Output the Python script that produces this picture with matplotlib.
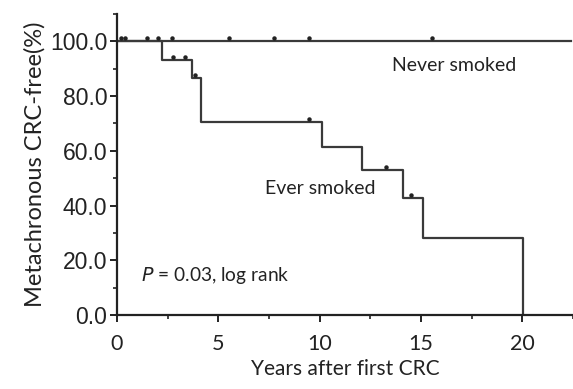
import matplotlib
matplotlib.use("Agg")
import matplotlib.pyplot as plt
import matplotlib.transforms as mtransforms
import numpy as np

# Ever smoked: step curve (time of event, survival after event)
ever_times = [0.0, 2.23, 3.70, 4.13, 10.10, 12.07, 14.10, 15.10, 20.05]
ever_surv = [100.0, 93.1, 86.7, 70.4, 61.4, 52.9, 42.6, 28.0, 0.0]
ever_censor = [2.77, 3.34, 3.85, 9.45, 13.25, 14.50]

# Never smoked
never_times = [0.0, 22.4]
never_surv = [100.0, 100.0]
never_censor = [0.2, 0.4, 1.49, 2.0, 2.69, 5.55, 7.73, 9.48, 15.55]

xticks = [0, 5, 10, 15, 20]
yticks = [0, 20, 40, 60, 80, 100]
ytick_labels = ["0.0", "20.0", "40.0", "60.0", "80.0", "100.0"]

W, H = 573, 389
fig = plt.figure(figsize=(W / 100, H / 100), dpi=100)
ax = fig.add_axes([117 / W, 1 - 315 / H, (W - 117) / W, (315 - 14) / H])

line_color = "#3a3a3a"

def surv_at(times, surv, t):
    idx = np.searchsorted(times, t, side="right") - 1
    return surv[idx]

ax.step(never_times, never_surv, where="post", color=line_color, lw=1.6)
ax.step(ever_times, ever_surv, where="post", color=line_color, lw=1.6)

off = mtransforms.offset_copy(ax.transData, fig=fig, x=0, y=3, units="dots")
ax.plot(never_censor, [surv_at(never_times, never_surv, t) for t in never_censor],
        ls="none", marker="o", ms=2.2, color="#222222", transform=off)
ax.plot(ever_censor, [surv_at(ever_times, ever_surv, t) for t in ever_censor],
        ls="none", marker="o", ms=2.2, color="#222222", transform=off)

ax.set_xlim(0, 22.4)
ax.set_ylim(0, 110)
ax.spines["top"].set_visible(False)
ax.spines["right"].set_visible(False)
for s in ("left", "bottom"):
    ax.spines[s].set_linewidth(1.6)
    ax.spines[s].set_color("#222222")

ax.set_xticks(xticks)
ax.set_xticks([2.5, 7.5, 12.5, 17.5, 22.5], minor=True)
ax.set_yticks(yticks)
ax.set_yticks([10, 30, 50, 70, 90, 110], minor=True)
ax.set_yticklabels(ytick_labels, fontfamily="Liberation Sans", fontsize=16.5, color="#222222")
ax.set_xticklabels([str(x) for x in xticks], fontfamily="Lato", fontsize=15.5, color="#222222")
ax.tick_params(axis="both", which="major", direction="out", length=5, width=1.4, color="#222222")
ax.tick_params(axis="both", which="minor", direction="out", length=3, width=1.2, color="#222222")
ax.tick_params(axis="y", pad=2)
ax.tick_params(axis="x", pad=9)

ax.set_xlabel("Years after first CRC", fontfamily="Lato", fontsize=15, color="#222222", labelpad=3)
ax.set_ylabel("Metachronous CRC-free(%)", fontfamily="Lato", fontsize=17, color="#222222", labelpad=3)

ax.text(13.55, 91.1, "Never smoked", fontfamily="Lato", fontsize=14, color="#222222", va="center", ha="left")
ax.text(7.3, 46.3, "Ever smoked", fontfamily="Lato", fontsize=14, color="#222222", va="center", ha="left")
ax.text(1.16, 14.6, "$P$ = 0.03, log rank", fontfamily="Lato", fontsize=13.8, color="#222222", va="center", ha="left")

fig.savefig("out.png", dpi=100, facecolor="white")
